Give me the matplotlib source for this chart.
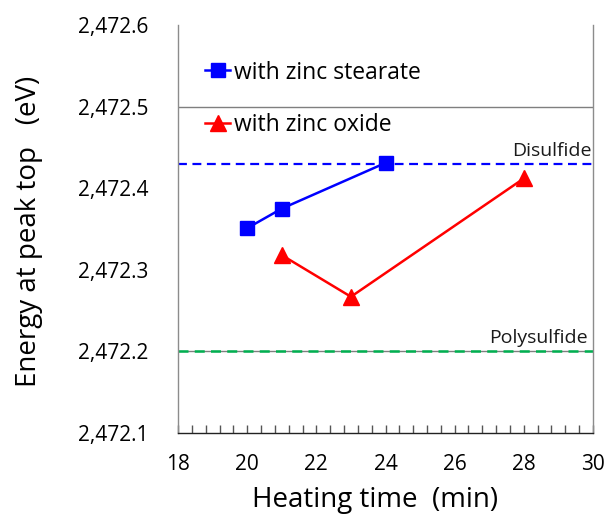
import matplotlib
matplotlib.use("Agg")
import matplotlib.pyplot as plt
from matplotlib.ticker import MultipleLocator, FixedLocator, FuncFormatter

plt.rcParams['font.family'] = ['Open Sans', 'DejaVu Sans']

# Data
stearate_time = [20, 21, 24]
stearate_energy = [2472.351, 2472.375, 2472.431]
oxide_time = [21, 23, 28]
oxide_energy = [2472.318, 2472.267, 2472.412]
disulfide_level = 2472.43
polysulfide_level = 2472.2
grid_levels = [2472.5, 2472.2]
x_ticks = [18, 20, 22, 24, 26, 28, 30]
y_ticks = [2472.1, 2472.2, 2472.3, 2472.4, 2472.5, 2472.6]

fig = plt.figure(figsize=(6.08, 5.19), dpi=100)
ax = fig.add_axes([0.2928, 0.1657, 0.6825, 0.7861])

for g in grid_levels:
    ax.axhline(g, color='#7f7f7f', lw=1.0, zorder=1)

ax.axhline(disulfide_level, color='#0000FF', lw=1.6, ls=(0, (4, 2.5)), zorder=2)
ax.axhline(polysulfide_level, color='#00B050', lw=1.8, ls=(0, (4, 2.5)), zorder=2)

ax.plot(stearate_time, stearate_energy, color='#0000FF', lw=1.8, marker='s',
        markersize=10, label='with zinc stearate', zorder=4)
ax.plot(oxide_time, oxide_energy, color='#FF0000', lw=1.8, marker='^',
        markersize=11, label='with zinc oxide', zorder=4)

ax.text(0.997, disulfide_level + 0.004, 'Disulfide', transform=ax.get_yaxis_transform(),
        ha='right', va='bottom', fontsize=14, color='#1a1a1a')
ax.text(0.987, polysulfide_level + 0.006, 'Polysulfide', transform=ax.get_yaxis_transform(),
        ha='right', va='bottom', fontsize=14, color='#1a1a1a')

ax.set_xlim(18, 30)
ax.set_ylim(2472.1, 2472.6)
ax.xaxis.set_major_locator(FixedLocator(x_ticks))
ax.xaxis.set_minor_locator(MultipleLocator(0.4))
ax.yaxis.set_major_locator(FixedLocator(y_ticks))
ax.yaxis.set_minor_locator(FixedLocator(grid_levels))
ax.yaxis.set_major_formatter(FuncFormatter(lambda v, p: f"{v:,.1f}"))

ax.tick_params(axis='x', which='both', direction='in', length=6, width=1, color='#555555',
               pad=15, labelsize=15)
ax.tick_params(axis='y', which='major', length=0, pad=21, labelsize=15)
ax.tick_params(axis='y', which='minor', direction='in', length=6, width=1, color='#222222')

ax.spines['top'].set_visible(False)
ax.spines['left'].set_color('#8c8c8c')
ax.spines['right'].set_color('#8c8c8c')
ax.spines['bottom'].set_color('#222222')
for s in ax.spines.values():
    s.set_linewidth(1.0)

ax.set_xlabel('Heating time  (min)', fontsize=20)
ax.set_ylabel('Energy at peak top   (eV)', fontsize=20)
ax.xaxis.set_label_coords(0.475, -0.13)
ax.yaxis.set_label_coords(-0.325, 0.493)

leg = ax.legend(loc='upper left', bbox_to_anchor=(0.065, 0.913), frameon=False,
                fontsize=16.5, handlelength=1.1, handletextpad=0.15, labelspacing=1.25,
                borderpad=0, borderaxespad=0)

fig.savefig('out.png', dpi=100)
